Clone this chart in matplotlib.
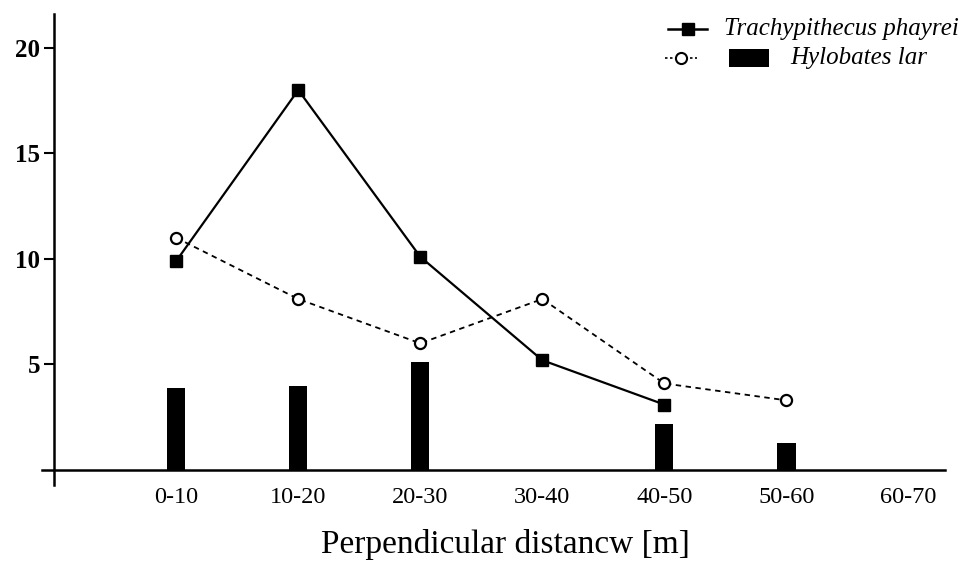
import matplotlib
matplotlib.use("Agg")
import matplotlib.pyplot as plt
from matplotlib.lines import Line2D
from matplotlib.patches import Rectangle
import numpy as np

categories = ["0-10", "10-20", "20-30", "30-40", "40-50", "50-60", "60-70"]
trachy = [9.9, 18.0, 10.1, 5.2, 3.1]
hylo_line = [11.0, 8.1, 6.0, 8.1, 4.1, 3.3]
hylo_bars = [3.9, 4.0, 5.1, 0.0, 2.2, 1.3, 0.0]
yticks = [5, 10, 15, 20]

plt.rcParams['font.family'] = ['Liberation Serif', 'DejaVu Serif']

fig = plt.figure(figsize=(9.65, 5.62), dpi=100)
ax = fig.add_axes([42/965, 1 - 485/562, 903/965, (485-14)/562])

x = np.arange(len(categories))
ax.bar(x, hylo_bars, width=0.15, color='black', zorder=2)
ax.plot(x[:len(hylo_line)], hylo_line, linestyle=(0, (3, 2.5)), color='black', lw=1.3,
        marker='o', markersize=8, markerfacecolor='white', markeredgecolor='black',
        markeredgewidth=1.6, zorder=3)
ax.plot(x[:len(trachy)], trachy, linestyle='-', color='black', lw=1.6,
        marker='s', markersize=8.5, markerfacecolor='black', markeredgecolor='black', zorder=4)

ax.set_xlim(-1.1, 6.3)
ax.set_ylim(-0.71, 21.6)
ax.spines['top'].set_visible(False)
ax.spines['right'].set_visible(False)
ax.spines['bottom'].set_position(('data', 0))
ax.spines['left'].set_position(('data', -1.0))
ax.spines['bottom'].set_linewidth(1.8)
ax.spines['left'].set_linewidth(1.8)

ax.set_xticks(x)
ax.set_xticklabels(categories, fontsize=17.5)
ax.tick_params(axis='x', length=0, pad=12)
ax.set_yticks(yticks)
ax.set_yticklabels([str(t) for t in yticks], fontsize=18, fontweight='bold')
ax.tick_params(axis='y', length=7, width=1.5, pad=3, direction='out')

fig.text(505/965, 1 - 545/562, "Perpendicular distancw [m]", ha='center', va='center', fontsize=24)

# legend (manual, figure pixel coords)
def fx(px):
    return px / 965
def fy(py):
    return 1 - py / 562

fig.add_artist(Line2D([fx(668), fx(707)], [fy(29), fy(29)], color='black', lw=1.8,
                      marker=None, transform=fig.transFigure))
fig.add_artist(Line2D([fx(688)], [fy(29)], color='black', marker='s', markersize=8,
                      linestyle='none', transform=fig.transFigure))
fig.text(fx(724), fy(29), "Trachypithecus phayrei", style='italic', fontsize=18,
         ha='left', va='center')

fig.add_artist(Line2D([fx(665), fx(697)], [fy(58), fy(58)], color='black', lw=1.2,
                      linestyle=(0, (1.5, 1.5)), transform=fig.transFigure))
fig.add_artist(Line2D([fx(681)], [fy(58)], color='black', marker='o', markersize=8,
                      markerfacecolor='white', markeredgewidth=1.5, linestyle='none',
                      transform=fig.transFigure))
fig.add_artist(Rectangle((fx(729), fy(67)), fx(769) - fx(729), fy(49) - fy(67),
                         facecolor='black', edgecolor='none', transform=fig.transFigure))
fig.text(fx(790), fy(58), "Hylobates lar", style='italic', fontsize=18,
         ha='left', va='center')

fig.savefig("out.png", dpi=100)
